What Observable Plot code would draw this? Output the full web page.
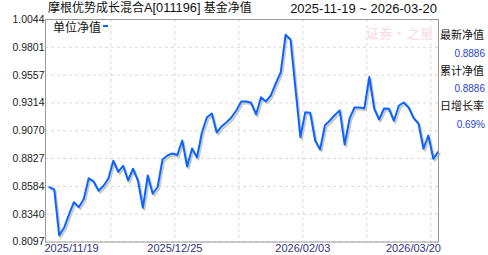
<!DOCTYPE html>
<html>
<head>
<meta charset="utf-8">
<script src="https://cdn.jsdelivr.net/npm/d3@7"></script>
<script src="https://cdn.jsdelivr.net/npm/@observablehq/plot@0.6"></script>
<style>
  html, body { margin: 0; padding: 0; background: #fff; }
  #wrap { position: relative; width: 488px; height: 255px; overflow: hidden; font-family: "Liberation Sans", "Noto Sans CJK SC", sans-serif; }
  #wrap svg { position: absolute; left: 0; top: 0; }
  .t { position: absolute; white-space: nowrap; }
</style>
</head>
<body>
<div id="wrap"></div>
<script>
// ---- data ----
const fundTitle = "摩根优势成长混合";
const fundCode = "A[011196]";
const titleSuffix = " 基金净值";
const dateRange = "2025-11-19 ~ 2026-03-20";
const seriesName = "单位净值";
const panelLabels = ["最新净值", "累计净值", "日增长率"];
const panelValues = ["0.8886", "0.8886", "0.69%"];
const watermark = "证券·之星";

// unit NAV per trading day (index 0 = 2025/11/19, 79 = 2026/03/20)
const navValues = [
  0.8577, 0.8557, 0.8154, 0.8221, 0.8338, 0.8445, 0.8402, 0.8473, 0.8655, 0.8627,
  0.8545, 0.8587, 0.8653, 0.8808, 0.8711, 0.8764, 0.8635, 0.8738, 0.8635, 0.8396,
  0.8679, 0.8519, 0.8578, 0.8819, 0.8854, 0.8872, 0.8858, 0.8985, 0.8758, 0.8915,
  0.8837, 0.9055, 0.9187, 0.9222, 0.9055, 0.9108, 0.9145, 0.9187, 0.9248, 0.9327,
  0.9327, 0.9315, 0.9213, 0.9364, 0.9327, 0.9379, 0.9484, 0.9580, 0.9910, 0.9869,
  0.9440, 0.9014, 0.9233, 0.9228, 0.8985, 0.8907, 0.9119, 0.9160, 0.9208, 0.9248,
  0.8950, 0.9178, 0.9274, 0.9274, 0.9268, 0.9541, 0.9263, 0.9169, 0.9265, 0.9263,
  0.9158, 0.9289, 0.9318, 0.9274, 0.9182, 0.9134, 0.8913, 0.9029, 0.8825, 0.8886
];
const yTicks = [0.8097, 0.8340, 0.8584, 0.8827, 0.9070, 0.9314, 0.9557, 0.9801, 1.0044];
const xGrid = [12.5, 25.5, 38.5, 51.5, 64.5, 77.5];
const xLabels = ["2025/11/19", "2025/12/25", "2026/02/03", "2026/03/20"];
const xLabelMid = [25.5, 51.5];

// ---- chart ----
const pts = navValues.map((v, i) => ({i, v}));
const chart = Plot.plot({
  width: 488,
  height: 255,
  marginLeft: 45,
  marginRight: 50,
  marginTop: 19,
  marginBottom: 13.5,
  style: {fontFamily: "Liberation Sans, sans-serif", background: "transparent"},
  x: {domain: [-0.774, 79.06], axis: null},
  y: {domain: [0.8097, 1.0044], label: null},
  marks: [
    Plot.gridY(yTicks, {stroke: "#d8d8d8", strokeOpacity: 1, strokeDasharray: "3,3"}),
    Plot.ruleX(xGrid, {stroke: "#d8d8d8", strokeDasharray: "3,3"}),
    Plot.axisY(yTicks, {label: null, tickSize: 0, tickPadding: 1, fontSize: 10.5, fill: "#222", tickFormat: d => d.toFixed(4)}),
    Plot.line(pts, {x: "i", y: "v", stroke: "#c8c8c8", strokeWidth: 2, dx: 1.5, dy: 2}),
    Plot.line(pts, {x: "i", y: "v", stroke: "#0a64ff", strokeWidth: 2}),
    Plot.frame({stroke: "#999"}),
    Plot.text([xLabels[0]], {frameAnchor: "bottom-left", textAnchor: "start", dx: -1, dy: 9.5, fontSize: 11, fill: "#33337f"}),
    Plot.text(xLabelMid, {x: d => d, frameAnchor: "bottom", text: (d, k) => xLabels[k + 1], dy: 9.5, fontSize: 11, fill: "#33337f"}),
    Plot.text([xLabels[3]], {frameAnchor: "bottom-right", textAnchor: "end", dx: 2.5, dy: 9.5, fontSize: 11, fill: "#33337f"})
  ]
});
const wrap = document.getElementById("wrap");
wrap.appendChild(chart);

function addText(txt, css) {
  const d = document.createElement("div");
  d.className = "t";
  d.textContent = txt;
  Object.assign(d.style, css);
  wrap.appendChild(d);
  return d;
}
// title
const tt = document.createElement("div");
tt.className = "t";
Object.assign(tt.style, {left: "48px", top: "2px", fontSize: "12px", lineHeight: "12px", color: "#111"});
tt.innerHTML = fundTitle + '<span style="font-size:12.8px">' + fundCode + '</span>' + titleSuffix;
wrap.appendChild(tt);
addText(dateRange, {right: "51px", top: "1.5px", fontSize: "13px", lineHeight: "13px", color: "#111"});
// legend
addText(seriesName, {left: "53px", top: "22px", fontSize: "12px", lineHeight: "12px", color: "#111"});
const dash = document.createElement("div");
Object.assign(dash.style, {position: "absolute", left: "103px", top: "25px", width: "4.5px", height: "2px", background: "#0a64ff"});
wrap.appendChild(dash);
// watermark
addText(watermark, {left: "366px", top: "26px", fontSize: "13px", lineHeight: "13px", color: "#fbd9df", fontFamily: "'Noto Sans CJK SC', sans-serif", letterSpacing: "0.5px"});
// right panel
const labelY = [35.7, 71, 106];
const valueY = [54.3, 89, 125];
panelLabels.forEach((s, k) => addText(s, {left: "440px", top: (labelY[k] - 5.5) + "px", fontSize: "11px", lineHeight: "11px", color: "#111"}));
panelValues.forEach((s, k) => addText(s, {right: "3px", top: (valueY[k] - 5) + "px", fontSize: "10px", lineHeight: "10px", color: "#2a45c8"}));
</script>
</body>
</html>
